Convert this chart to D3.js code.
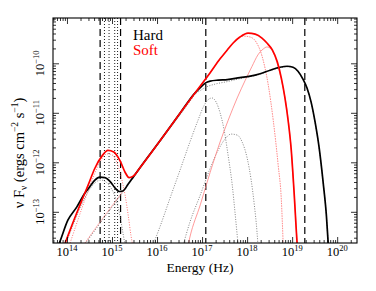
<!DOCTYPE html>
<html>
<head>
<meta charset="utf-8">
<script src="https://cdn.jsdelivr.net/npm/d3@7"></script>
</head>
<body style="margin:0">
<svg width="376" height="291"></svg>
<script>
// curves, as [log10 nu (Hz), log10 nuFnu (erg cm^-2 s^-1)]
const hardTotal = [[13.8,-13.7],[13.84,-13.61],[14.02,-13.17],[14.22,-12.9],[14.4,-12.62],[14.51,-12.49],
  [14.62,-12.36],[14.73,-12.3],[14.84,-12.31],[14.96,-12.39],[15.07,-12.52],[15.16,-12.59],[15.24,-12.58],
  [15.36,-12.44],[15.47,-12.3],[15.62,-12.11],[16.07,-11.56],[16.51,-11.01],[16.84,-10.6],[16.96,-10.49],
  [17.07,-10.4],[17.18,-10.36],[17.36,-10.34],[17.56,-10.33],[17.84,-10.29],[18.07,-10.26],[18.29,-10.21],
  [18.51,-10.14],[18.73,-10.08],[18.89,-10.06],[19.02,-10.08],[19.13,-10.16],[19.24,-10.32],[19.33,-10.5],
  [19.42,-10.78],[19.51,-11.19],[19.6,-11.71],[19.69,-12.42],[19.76,-13.07],[19.8,-13.63],[19.82,-13.87]];

const softTotal = [[13.93,-13.7],[13.96,-13.63],[14.11,-13.27],[14.29,-12.86],[14.47,-12.46],[14.62,-12.12],
  [14.78,-11.87],[14.91,-11.76],[15.04,-11.79],[15.18,-11.97],[15.29,-12.2],[15.38,-12.31],[15.47,-12.28],
  [15.62,-12.11],[16.07,-11.56],[16.51,-11.01],[16.96,-10.46],[17.18,-10.19],[17.4,-9.91],[17.56,-9.73],
  [17.69,-9.59],[17.84,-9.47],[18.02,-9.39],[18.18,-9.41],[18.33,-9.49],[18.44,-9.59],[18.56,-9.73],
  [18.67,-9.97],[18.76,-10.3],[18.84,-10.7],[18.91,-11.15],[18.98,-11.75],[19.04,-12.56],[19.11,-13.63],[19.13,-13.87]];

// soft state components
const softDisk = [[14.07,-13.63],[14.24,-13.17],[14.42,-12.7],[14.6,-12.26],[14.76,-11.95],[14.89,-11.83],
  [15.0,-11.85],[15.11,-12.01],[15.2,-12.28],[15.29,-12.66],[15.36,-13.07],[15.42,-13.47],[15.47,-13.73]];
const softSync = [[14.4,-13.63],[14.73,-13.21],[15.18,-12.66],[15.62,-12.11],[16.07,-11.56],[16.51,-11.01],
  [16.96,-10.46],[17.18,-10.19],[17.4,-9.91],[17.58,-9.71],[17.73,-9.55],[17.91,-9.45],[18.07,-9.47],
  [18.2,-9.57],[18.33,-9.85],[18.47,-10.44],[18.58,-11.15],[18.69,-12.06],[18.76,-12.76],[18.8,-13.63]];
const softComp = [[16.69,-13.67],[16.73,-13.51],[16.96,-12.86],[17.18,-12.2],[17.4,-11.59],[17.58,-11.15],
  [17.78,-10.7],[17.96,-10.34],[18.11,-10.06],[18.24,-9.83],[18.36,-9.71],[18.44,-9.67],[18.53,-9.71],
  [18.62,-9.87],[18.71,-10.14],[18.8,-10.5],[18.89,-10.98],[18.98,-11.75],[19.04,-12.56],[19.11,-13.63]];

// hard state components
const hardDisk = [[13.98,-13.63],[14.16,-13.21],[14.33,-12.84],[14.51,-12.54],[14.64,-12.4],[14.76,-12.36],
  [14.87,-12.4],[14.98,-12.52],[15.09,-12.76],[15.18,-13.09],[15.24,-13.41],[15.29,-13.67]];
const hardBumpA = [[15.91,-13.67],[16.07,-13.29],[16.29,-12.72],[16.51,-12.16],[16.73,-11.59],[16.91,-11.15],
  [17.04,-10.86],[17.13,-10.74],[17.22,-10.7],[17.31,-10.78],[17.4,-11.0],[17.49,-11.35],[17.58,-11.87],
  [17.67,-12.46],[17.73,-13.0],[17.8,-13.67]];
const hardBumpB = [[16.58,-13.67],[16.73,-13.21],[16.96,-12.66],[17.18,-12.12],[17.36,-11.75],[17.51,-11.53],
  [17.64,-11.43],[17.78,-11.45],[17.89,-11.59],[18.0,-11.91],[18.09,-12.36],[18.16,-12.86],[18.22,-13.41],[18.24,-13.67]];
const hardSync = [[14.4,-13.65],[15.18,-12.68],[16.07,-11.58],[16.73,-10.77],[16.84,-10.63],[16.96,-10.55],
  [17.09,-10.48],[17.29,-10.42],[17.56,-10.37],[17.84,-10.31],[18.07,-10.27],[18.29,-10.22],[18.51,-10.15],
  [18.73,-10.09],[18.89,-10.07],[19.02,-10.09],[19.13,-10.17],[19.24,-10.33],[19.33,-10.51],[19.42,-10.79],
  [19.51,-11.2],[19.6,-11.72],[19.69,-12.43],[19.76,-13.07],[19.8,-13.63]];

// band markers (Hz)
const dashedBands = [5.45e14, 1.55e15, 1.21e17, 1.91e19];
const dottedBands = [6.8e14, 8.6e14, 1.15e15, 1.33e15];

const xTickExp = [14, 15, 16, 17, 18, 19, 20];
const yTickExp = [-13, -12, -11, -10];
const legendItems = ["Hard", "Soft"];
const legendColors = ["#000", "#ff0000"];

let svg = d3.select("svg");
let L = 53, R = 357, T = 18, B = 243;
let serif = '"Times New Roman"';

let x = d3.scaleLog().domain([Math.pow(10, 13.69), Math.pow(10, 20.44)]).range([L, R]);
let y = d3.scaleLog().domain([Math.pow(10, -13.63), Math.pow(10, -9.085)]).range([B, T]);

svg.append("defs").append("clipPath").attr("id", "clip")
  .append("rect").attr("x", L).attr("y", T).attr("width", R - L).attr("height", B - T);

let plot = svg.append("g").attr("clip-path", "url(#clip)");

// vertical band lines
plot.selectAll(".dash").data(dashedBands).enter().append("line")
  .attr("x1", d => x(d)).attr("x2", d => x(d)).attr("y1", T).attr("y2", B)
  .attr("stroke", "#000").attr("stroke-width", 1.2).attr("stroke-dasharray", "7,4");
plot.selectAll(".dot").data(dottedBands).enter().append("line")
  .attr("x1", d => x(d)).attr("x2", d => x(d)).attr("y1", T).attr("y2", B)
  .attr("stroke", "#000").attr("stroke-width", 0.9).attr("stroke-dasharray", "1,2");

let line = d3.line()
  .x(d => x(Math.pow(10, d[0])))
  .y(d => y(Math.pow(10, d[1])))
  .curve(d3.curveMonotoneX);

function curve(data, color, w, dash) {
  plot.append("path").datum(data).attr("d", line)
    .attr("fill", "none").attr("stroke", color).attr("stroke-width", w)
    .attr("stroke-dasharray", dash);
}

curve(hardSync, "#666", 0.8, "1,1.5");
curve(hardDisk, "#666", 0.8, "1,1.5");
curve(hardBumpA, "#666", 0.8, "1,1.5");
curve(hardBumpB, "#666", 0.8, "1,1.5");
curve(softDisk, "#ff5050", 0.8, "1,1.5");
curve(softSync, "#ff6a6a", 0.8, "1.5,1");
curve(softComp, "#ff8080", 0.8, null);
curve(hardTotal, "#000", 1.7, null);
curve(softTotal, "#ff0000", 1.7, null);

// ticks on all four sides, pointing inward
let xMinor = x.ticks().filter(d => !Number.isInteger(Math.round(Math.log10(d) * 1000) / 1000));
let xMajor = xTickExp.map(e => Math.pow(10, e));
let yMinor = y.ticks().filter(d => !Number.isInteger(Math.round(Math.log10(d) * 1000) / 1000));
let yMajor = yTickExp.map(e => Math.pow(10, e));

function ticks(axisFn, scale, vals, size, tr) {
  let g = svg.append("g").attr("transform", tr)
    .call(axisFn(scale).tickValues(vals).tickSize(-size).tickSizeOuter(0).tickFormat(""));
  g.select(".domain").remove();
  g.selectAll("line").attr("stroke", "#000").attr("stroke-width", 0.8);
}
ticks(d3.axisBottom, x, xMinor, 3, `translate(0,${B})`);
ticks(d3.axisBottom, x, xMajor, 6, `translate(0,${B})`);
ticks(d3.axisTop, x, xMinor, 3, `translate(0,${T})`);
ticks(d3.axisTop, x, xMajor, 6, `translate(0,${T})`);
ticks(d3.axisLeft, y, yMinor, 3, `translate(${L},0)`);
ticks(d3.axisLeft, y, yMajor, 6, `translate(${L},0)`);
ticks(d3.axisRight, y, yMinor, 3, `translate(${R},0)`);
ticks(d3.axisRight, y, yMajor, 6, `translate(${R},0)`);

svg.append("rect").attr("x", L).attr("y", T).attr("width", R - L).attr("height", B - T)
  .attr("fill", "none").attr("stroke", "#000").attr("stroke-width", 1.1);

// tick labels
let xl = svg.selectAll(".xl").data(xTickExp).enter().append("text")
  .attr("x", d => x(Math.pow(10, d))).attr("y", 256)
  .style("font-family", serif).style("font-size", "12.5px")
  .attr("text-anchor", "middle");
xl.append("tspan").text("10");
xl.append("tspan").attr("dy", -5).style("font-size", "8.5px").text(d => d);

let yl = svg.selectAll(".yl").data(yTickExp).enter().append("text")
  .attr("transform", d => `translate(43.5,${y(Math.pow(10, d))}) rotate(-90)`)
  .style("font-family", serif).style("font-size", "12.5px")
  .attr("text-anchor", "middle");
yl.append("tspan").text("10");
yl.append("tspan").attr("dy", -5).style("font-size", "8.5px").text(d => "\u2212" + Math.abs(d));

// axis titles
svg.append("text").attr("x", 200).attr("y", 272).attr("text-anchor", "middle")
  .style("font-family", serif).style("font-size", "13.5px").text("Energy (Hz)");

let yt = svg.append("text").attr("transform", "translate(24,153) rotate(-90)")
  .style("font-family", serif).style("font-size", "14.5px")
  .attr("text-anchor", "middle");
yt.append("tspan").text("\u03bd F");
yt.append("tspan").style("font-size", "9.5px").attr("dy", 3).text("\u03bd");
yt.append("tspan").attr("dy", -3).text(" (ergs cm");
yt.append("tspan").style("font-size", "9.5px").attr("dy", -6).text("\u22122");
yt.append("tspan").attr("dy", 6).text(" s");
yt.append("tspan").style("font-size", "9.5px").attr("dy", -6).text("\u22121");
yt.append("tspan").attr("dy", 6).text(")");

// legend
svg.selectAll(".lg").data(legendItems).enter().append("text")
  .attr("x", 133).attr("y", (d, i) => 40 + i * 14.5)
  .style("font-family", serif).style("font-size", "15px")
  .attr("fill", (d, i) => legendColors[i]).text(d => d);
</script>
</body>
</html>
